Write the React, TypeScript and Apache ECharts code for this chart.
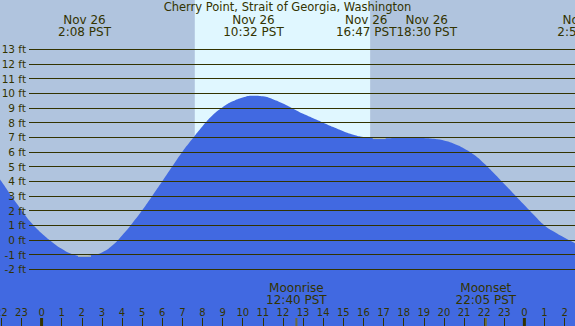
import React, { useEffect, useRef } from 'react';
import * as echarts from 'echarts';

const TITLE = 'Cherry Point, Strait of Georgia, Washington';

// tide curve, hours from midnight Nov 26 (PST) and height in feet
const hours = [-2.07, -2, -1.5, -1, -0.5, 0, 0.5, 1, 1.5, 2, 2.5, 3, 3.5, 4, 4.5, 5, 5.5, 6, 6.5, 7, 7.5, 8, 8.5, 9, 9.5, 10, 10.5, 11, 11.5, 12, 12.5, 13, 13.5, 14, 14.5, 15, 15.5, 16, 16.5, 17, 17.5, 18, 18.5, 19, 19.5, 20, 20.5, 21, 21.5, 22, 22.5, 23, 23.5, 24, 24.5, 25, 25.5, 26, 26.52];
const heights = [4.12, 4.0, 3.0, 2.05, 1.15, 0.45, -0.12, -0.6, -0.95, -1.08, -1.02, -0.85, -0.4, 0.3, 1.12, 2.02, 3.0, 4.0, 5.02, 6.02, 6.9, 7.75, 8.5, 9.05, 9.45, 9.72, 9.84, 9.8, 9.6, 9.3, 8.95, 8.6, 8.3, 8.0, 7.7, 7.42, 7.18, 7.02, 6.95, 6.93, 6.96, 7.0, 7.02, 6.96, 6.9, 6.78, 6.56, 6.24, 5.81, 5.22, 4.54, 3.82, 3.1, 2.38, 1.66, 0.99, 0.54, 0.15, -0.22];

// hour tick marks / labels along the bottom
const hourTicks = [-2, -1, 0, 1, 2, 3, 4, 5, 6, 7, 8, 9, 10, 11, 12, 13, 14, 15, 16, 17, 18, 19, 20, 21, 22, 23, 24, 25, 26];

// high / low tide events
const eventHours = [2 + 8 / 60, 10 + 32 / 60, 16 + 47 / 60, 18 + 30 / 60, 26 + 57 / 60];
const eventDates = ['Nov 26', 'Nov 26', 'Nov 26', 'Nov 26', 'Nov 27'];
const eventTimes = ['2:08 PST', '10:32 PST', '16:47 PST', '18:30 PST', '2:57 PST'];
const lowHours = [2 + 8 / 60, 16 + 47 / 60];
const lowHeights = [-1.1, 6.93];

// moon
const moonHours = [12 + 40 / 60, 22 + 5 / 60];
const moonNames = ['Moonrise', 'Moonset'];
const moonTimes = ['12:40 PST', '22:05 PST'];

// sun
const sunriseHour = 7 + 37 / 60;
const sunsetHour = 16 + 20 / 60;

const midnightHours = [0, 24];

// visible window
const viewStart = -2 - 4 / 60;
const viewEnd = 26 + 31 / 60;

const yTickMin = -2;
const yTickMax = 13;

const W = 575;
const H = 326;
const INK = '#333300';
const NIGHT = '#b0c4de';
const DAY = '#e0f7ff';
const WATER = '#4169e1';
const FONT = '"DejaVu Sans", sans-serif';

export default function App() {
  const ref = useRef<HTMLDivElement>(null);

  useEffect(() => {
    document.body.style.margin = '0';
    const chart = echarts.init(ref.current!, null, { renderer: 'svg', width: W, height: H });

    const yTop = 49.3;
    const yBottomPx = 269.3;
    const ppf = (yBottomPx - yTop) / (yTickMax - yTickMin);
    const y0Max = yTickMax + yTop / ppf;
    const y0Min = yTickMin - (H - yBottomPx) / ppf;

    const tickRender = (w: number, color: string) => (params: any, api: any) => {
      const x = api.coord([api.value(0), 0])[0];
      const bottom = params.coordSys.y + params.coordSys.height;
      return {
        type: 'rect',
        shape: { x: x - w / 2, y: bottom - 8, width: w, height: 8 },
        style: { fill: color },
      };
    };

    const option: any = {
      animation: false,
      backgroundColor: NIGHT,
      grid: [
        { left: 0, right: 0, top: 0, bottom: 0, containLabel: false, outerBoundsMode: 'none' },
        {
          left: 29,
          right: 0,
          top: yTop,
          bottom: H - yBottomPx,
          containLabel: false,
          outerBoundsMode: 'none',
        },
      ],
      xAxis: [
        {
          type: 'value',
          gridIndex: 0,
          min: viewStart,
          max: viewEnd,
          axisLine: { show: false, onZero: false },
          splitLine: { show: false },
          axisTick: {
            show: true,
            inside: true,
            length: 8,
            customValues: hourTicks,
            lineStyle: { color: INK, width: 1 },
          },
          axisLabel: {
            inside: true,
            margin: 9,
            color: INK,
            fontSize: 10,
            fontFamily: FONT,
            customValues: hourTicks,
            hideOverlap: false,
            formatter: (v: number) => String(((Math.round(v) % 24) + 24) % 24),
          },
          z: 5,
        },
        { type: 'value', gridIndex: 1, min: 0, max: 1, show: false },
      ],
      yAxis: [
        { type: 'value', gridIndex: 0, min: y0Min, max: y0Max, show: false },
        {
          type: 'value',
          gridIndex: 1,
          min: yTickMin,
          max: yTickMax,
          interval: 1,
          axisLine: { show: false },
          axisTick: { show: false },
          splitLine: { show: true, lineStyle: { color: INK, width: 1 } },
          axisLabel: {
            color: INK,
            fontSize: 10.5,
            fontFamily: FONT,
            margin: 3,
            formatter: (v: number) => `${v} ft`,
          },
          z: 10,
        },
      ],
      series: [
        {
          type: 'line',
          xAxisIndex: 0,
          yAxisIndex: 0,
          data: [],
          z: 1,
          markArea: {
            silent: true,
            itemStyle: { color: DAY },
            data: [[{ xAxis: sunriseHour }, { xAxis: sunsetHour }]],
          },
        },
        {
          type: 'line',
          xAxisIndex: 0,
          yAxisIndex: 0,
          data: hours.map((h, i) => [h, heights[i]]),
          smooth: 0.5,
          symbol: 'none',
          lineStyle: { width: 0 },
          areaStyle: { color: WATER, opacity: 1, origin: 'start' },
          z: 2,
        },
        {
          type: 'scatter',
          xAxisIndex: 0,
          yAxisIndex: 0,
          data: lowHours.map((h, i) => [h, lowHeights[i]]),
          symbol: 'rect',
          symbolSize: [13, 1.5],
          itemStyle: { color: '#c8cca8' },
          z: 3,
        },
        {
          type: 'custom',
          xAxisIndex: 0,
          yAxisIndex: 0,
          data: midnightHours.map((h) => [h]),
          renderItem: tickRender(3, INK),
          z: 6,
        },
        {
          type: 'custom',
          xAxisIndex: 0,
          yAxisIndex: 0,
          data: moonHours.map((h) => [h]),
          renderItem: tickRender(2, '#6b6b3a'),
          z: 6,
        },
      ],
    };

    chart.setOption(option);

    // measure text to separate overlapping event labels
    const ctx = document.createElement('canvas').getContext('2d')!;
    ctx.font = `12px ${FONT}`;
    const widths = eventHours.map((_, i) =>
      Math.max(ctx.measureText(eventDates[i]).width, ctx.measureText(eventTimes[i]).width)
    );
    const centers = eventHours.map((h) => chart.convertToPixel({ xAxisIndex: 0 }, h) as number);
    for (let i = 0; i < centers.length - 1; i++) {
      const need = (widths[i] + widths[i + 1]) / 2;
      if (centers[i + 1] - centers[i] < need) {
        const mid = (centers[i] + centers[i + 1]) / 2;
        centers[i] = mid - need / 2;
        centers[i + 1] = mid + need / 2;
      }
    }

    const textStyle = (text: string, size: number) => ({
      text,
      fill: INK,
      font: `${size}px ${FONT}`,
      textAlign: 'center',
      textVerticalAlign: 'middle',
    });

    const graphics: any[] = [
      { type: 'text', x: W / 2, y: 7, z: 20, style: textStyle(TITLE, 11.5) },
    ];
    centers.forEach((cx, i) => {
      graphics.push({ type: 'text', x: cx, y: 19.8, z: 20, style: textStyle(eventDates[i], 12) });
      graphics.push({ type: 'text', x: cx, y: 31.8, z: 20, style: textStyle(eventTimes[i], 12) });
    });
    moonHours.forEach((h, i) => {
      const cx = chart.convertToPixel({ xAxisIndex: 0 }, h) as number;
      graphics.push({ type: 'text', x: cx, y: 287.8, z: 20, style: textStyle(moonNames[i], 12) });
      graphics.push({ type: 'text', x: cx, y: 299.8, z: 20, style: textStyle(moonTimes[i], 12) });
    });
    chart.setOption({ graphic: graphics });

    return () => chart.dispose();
  }, []);

  return <div ref={ref} style={{ width: W, height: H }} />;
}
